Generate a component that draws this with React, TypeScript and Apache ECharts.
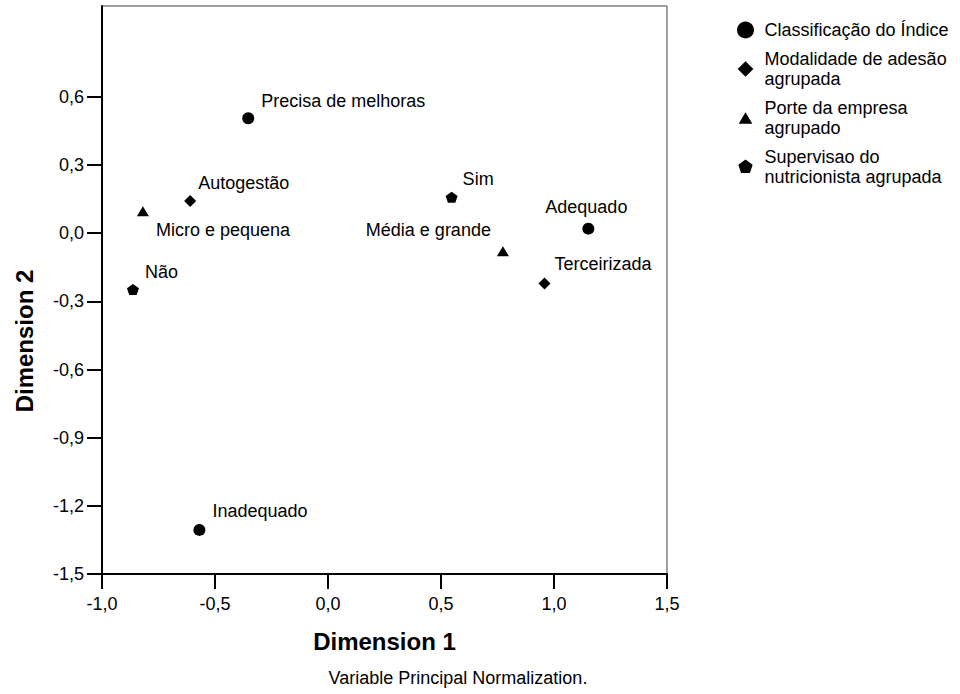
import React, { useEffect, useRef } from "react";
import * as echarts from "echarts";

// ---- data ----
const seriesNames = [
  "Classificação do Índice",
  "Modalidade de adesão\nagrupada",
  "Porte da empresa\nagrupado",
  "Supervisao do\nnutricionista agrupada",
];

// [label, dimension1, dimension2]
const classificacaoPoints: [string, number, number][] = [
  ["Precisa de melhoras", -0.353, 0.506],
  ["Adequado", 1.152, 0.02],
  ["Inadequado", -0.569, -1.306],
];
const modalidadePoints: [string, number, number][] = [
  ["Autogestão", -0.61, 0.142],
  ["Terceirizada", 0.958, -0.221],
];
const portePoints: [string, number, number][] = [
  ["Micro e pequena", -0.819, 0.097],
  ["Média e grande", 0.774, -0.079],
];
const supervisaoPoints: [string, number, number][] = [
  ["Sim", 0.547, 0.158],
  ["Não", -0.863, -0.248],
];

const yTickValues = [-1.5, -1.2, -0.9, -0.6, -0.3, 0, 0.3, 0.6];

// ---- styles ----
const FONT = "'Liberation Sans', Arial, Helvetica, sans-serif";

const labelPlacement: Record<string, { align: string; offset: [number, number] }> = {
  "Precisa de melhoras": { align: "left", offset: [13, -17] },
  Adequado: { align: "center", offset: [-2, -22] },
  Inadequado: { align: "left", offset: [13, -19] },
  Autogestão: { align: "left", offset: [8, -18] },
  Terceirizada: { align: "left", offset: [10, -19] },
  "Micro e pequena": { align: "left", offset: [13, 19] },
  "Média e grande": { align: "right", offset: [-12, -21] },
  Sim: { align: "left", offset: [11, -18] },
  Não: { align: "left", offset: [12, -18] },
};

const PENTAGON = "path://M0,-1L0.951,-0.309L0.588,0.809L-0.588,0.809L-0.951,-0.309Z";
const DIAMOND = "path://M0,-1L1,0L0,1L-1,0Z";

const seriesSymbols: { symbol: string; size: number | [number, number]; legendIcon: string }[] = [
  { symbol: "circle", size: 12, legendIcon: "circle" },
  {
    symbol: DIAMOND,
    size: 12,
    legendIcon: "path://M-1.08,-1.08M1.08,1.08M0,-1L1,0L0,1L-1,0Z",
  },
  {
    symbol: "triangle",
    size: [12, 10],
    legendIcon: "path://M-1.25,-1.25M1.25,1.25M0,-0.85L1,0.85L-1,0.85Z",
  },
  {
    symbol: PENTAGON,
    size: [12, 11],
    legendIcon:
      "path://M-1.13,-1.13M1.13,1.13M0,-1L0.951,-0.309L0.588,0.809L-0.588,0.809L-0.951,-0.309Z",
  },
];

const fmt = (v: number) => (Math.abs(v) < 1e-9 ? 0 : v).toFixed(1).replace(".", ",");

export default function App() {
  const ref = useRef<HTMLDivElement>(null);

  useEffect(() => {
    if (!ref.current) return;
    const chart = echarts.init(ref.current, undefined, { renderer: "svg" });

    const allPoints = [classificacaoPoints, modalidadePoints, portePoints, supervisaoPoints];

    const series = allPoints.map((pts, i) => ({
      type: "scatter",
      name: seriesNames[i],
      symbol: seriesSymbols[i].symbol,
      symbolSize: seriesSymbols[i].size,
      itemStyle: { color: "#000", opacity: 1 },
      data: pts.map(([name, x, y]) => ({
        name,
        value: [x, y],
        label: {
          show: true,
          position: "inside",
          verticalAlign: "middle",
          align: labelPlacement[name].align,
          offset: labelPlacement[name].offset,
          formatter: name,
          color: "#000",
          opacity: 1,
          fontSize: 18,
          fontFamily: FONT,
        },
      })),
      emphasis: { disabled: true },
    }));

    chart.setOption({
      animation: false,
      backgroundColor: "#fff",
      textStyle: { fontFamily: FONT },
      grid: {
        left: 102,
        right: 293,
        top: 6,
        bottom: 120,
        show: true,
        borderColor: "#444",
        borderWidth: 1,
      },
      legend: {
        orient: "vertical",
        left: 732,
        top: 15,
        itemGap: 9,
        itemWidth: 28,
        itemHeight: 17,
        selectedMode: false,
        data: seriesNames.map((n, i) => ({ name: n, icon: seriesSymbols[i].legendIcon })),
        textStyle: { fontSize: 18, lineHeight: 20, color: "#000", fontFamily: FONT },
        itemStyle: { color: "#000", opacity: 1 },
      },
      xAxis: {
        type: "value",
        min: -1.0,
        max: 1.5,
        interval: 0.5,
        name: "Dimension 1",
        nameLocation: "middle",
        nameGap: 55,
        nameTextStyle: { fontSize: 24, fontWeight: "bold", color: "#000", fontFamily: FONT },
        axisLine: { show: true, onZero: false, lineStyle: { color: "#000", width: 2 } },
        axisTick: { show: true, inside: false, length: 15, lineStyle: { color: "#000", width: 2 } },
        axisLabel: {
          show: true,
          margin: 21,
          fontSize: 18,
          color: "#000",
          fontFamily: FONT,
          showMinLabel: true,
          showMaxLabel: true,
          formatter: (v: number) => fmt(v),
        },
        splitLine: { show: false },
      },
      yAxis: {
        type: "value",
        min: -1.5,
        max: 1.0,
        interval: 0.3,
        axisLine: { show: true, onZero: false, lineStyle: { color: "#000", width: 2 } },
        axisTick: {
          show: true,
          inside: false,
          length: 15,
          lineStyle: { color: "#000", width: 2 },
          customValues: yTickValues,
        },
        axisLabel: {
          show: true,
          margin: 18,
          fontSize: 18,
          color: "#000",
          fontFamily: FONT,
          customValues: yTickValues,
          formatter: (v: number) => fmt(v),
        },
        splitLine: { show: false },
      },
      graphic: [
        {
          type: "text",
          x: 24,
          y: 341,
          rotation: Math.PI / 2,
          style: {
            text: "Dimension 2",
            fontSize: 24,
            fontWeight: "bold",
            fontFamily: FONT,
            fill: "#000",
            align: "center",
            verticalAlign: "middle",
          },
        },
        {
          type: "text",
          x: 458,
          y: 678,
          style: {
            text: "Variable Principal Normalization.",
            fontSize: 18,
            fontFamily: FONT,
            fill: "#000",
            align: "center",
            verticalAlign: "middle",
          },
        },
      ],
      series,
    });

    return () => chart.dispose();
  }, []);

  return (
    <div
      ref={ref}
      style={{ position: "fixed", left: 0, top: 0, width: 960, height: 694, background: "#fff" }}
    />
  );
}
